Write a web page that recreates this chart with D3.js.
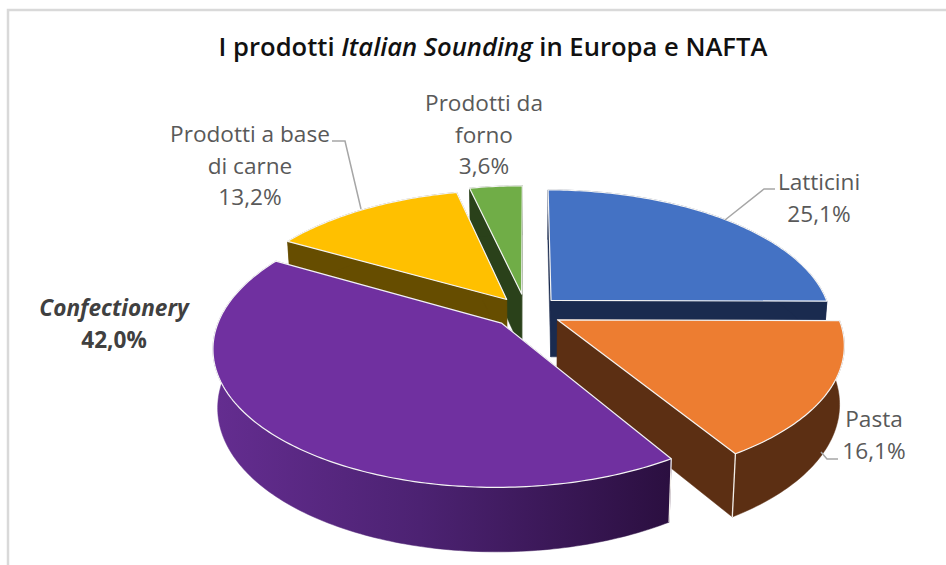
<!DOCTYPE html>
<html><head><meta charset="utf-8">
<script src="https://cdn.jsdelivr.net/npm/d3@7/dist/d3.min.js"></script>
<style>html,body{margin:0;padding:0;background:#fff}svg{display:block}</style>
</head><body><div id="c"></div>
<script>
const categories = ["Latticini","Pasta","Confectionery","Prodotti a base di carne","Prodotti da forno"];
const values = [25.1,16.1,42.0,13.2,3.6];
const labelLines = [["Latticini"],["Pasta"],["Confectionery"],["Prodotti a base","di carne"],["Prodotti da","forno"]];

const W=946,H=565;
const colors=["#4472C4","#ED7D31","#7030A0","#FFC000","#70AD47"];
const walls=["#1A2B4F","#5C2F13","url(#pw)","#664D00","#2A411A"];
const explode=[0.105,0.12,0.13,0.13,0.14];
const nudge=[[0.5,0],[-2,2],[-3,0.5],[-2,3],[-4,2]];
const paintOrder=[4,0,3,1,2];
const cx=530,cy=310,S0=279,K=132,p=0.168,thick=57,q=0.12,shrink=0.985;
const labelPos=[{x:819,y:190},{x:874,y:427},{x:114,y:316},{x:250,y:142},{x:484,y:111}];
const leaders=[[[775,189],[764,189],[725,220]],[[838,459],[827,459],[821,452]],null,[[332,141],[345,141],[361,209]],null];

const svg=d3.select("#c").append("svg").attr("width",W).attr("height",H);
const g=svg.append("defs").append("linearGradient").attr("id","pw").attr("gradientUnits","userSpaceOnUse")
 .attr("x1",215).attr("x2",670).attr("y1",0).attr("y2",0);
g.append("stop").attr("offset",0).attr("stop-color","#642D90");
g.append("stop").attr("offset",0.45).attr("stop-color","#4C2272");
g.append("stop").attr("offset",1).attr("stop-color","#2B0F40");

svg.append("path").attr("d",`M8,${H} V10 H${W}`).attr("fill","none").attr("stroke","#D9D9D9").attr("stroke-width",2.5);

const title=svg.append("text").attr("x",493).attr("y",56).attr("text-anchor","middle")
 .attr("font-family","'Open Sans'").attr("font-weight",600).attr("font-size",25.6).attr("fill","#111");
title.append("tspan").text("I prodotti ");
title.append("tspan").attr("font-style","italic").text("Italian Sounding");
title.append("tspan").text(" in Europa e NAFTA");

function project(u,v,z,n){
  const s=1/(1-p*v);
  let X=S0*u*s,Y=K*v*s;
  if(z){X*=shrink;Y+=thick*(1+q*v);}
  return [cx+X+n[0],cy+Y+n[1]];
}
const line=d3.line();
const arcs=d3.pie().sort(null).value(d=>d)(values);

paintOrder.forEach(i=>{
  const a=arcs[i],mid=(a.startAngle+a.endAngle)/2,nd=nudge[i];
  const ou=explode[i]*Math.sin(mid),ov=-explode[i]*Math.cos(mid);
  const n=Math.max(8,Math.ceil((a.endAngle-a.startAngle)*60));
  const angles=d3.range(n+1).map(k=>a.startAngle+(a.endAngle-a.startAngle)*k/n);
  const pt=(t,z)=>project(ou+Math.sin(t),ov-Math.cos(t),z,nd);
  const apex=z=>project(ou,ov,z,nd);
  const topArc=angles.map(t=>pt(t,0)),botArc=angles.map(t=>pt(t,1));
  const gs=svg.append("g");
  const wall=pts=>gs.append("path").attr("d",line(pts)+"Z").attr("fill",walls[i])
     .attr("stroke",walls[i]).attr("stroke-width",0.5).attr("stroke-linejoin","round");
  wall([apex(0),topArc[0],botArc[0],apex(1)]);
  wall([apex(0),topArc[n],botArc[n],apex(1)]);
  wall(topArc.concat(botArc.slice().reverse()));
  if(i===1||i===2){
    gs.append("path").attr("d",line([topArc[i===1?n:0],botArc[i===1?n:0]])).attr("stroke","#F2EEE9").attr("stroke-width",1.3).attr("fill","none");
  }
  gs.append("path").attr("d",line([apex(0),...topArc])+"Z").attr("fill",colors[i])
    .attr("stroke","#F4F4F4").attr("stroke-width",1.2).attr("stroke-linejoin","round");
});

leaders.forEach(l=>{ if(l) svg.append("path").attr("d",line(l)).attr("fill","none").attr("stroke","#A6A6A6").attr("stroke-width",1.5); });

const fmt=v=>d3.format(".1f")(v).replace(".",",")+"%";
categories.forEach((c,i)=>{
  const pos=labelPos[i],lines=labelLines[i].concat([fmt(values[i])]);
  lines.forEach((t,j)=>{
    const isPct=j===lines.length-1;
    svg.append("text").attr("x",pos.x).attr("y",pos.y+j*31.7).attr("text-anchor","middle")
     .attr("font-family","'Open Sans'").attr("font-size",22.6).attr("fill",i===2?"#404040":"#595959")
     .attr("font-weight",i===2?700:400).attr("font-style",i===2&&!isPct?"italic":"normal").text(t);
  });
});
</script></body></html>
